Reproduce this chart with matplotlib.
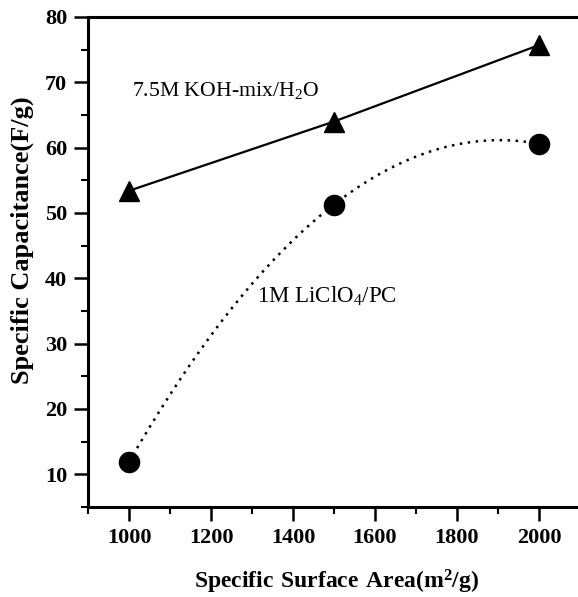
import numpy as np
import matplotlib
matplotlib.use("Agg")
import matplotlib.pyplot as plt
from matplotlib.ticker import MultipleLocator

# Data
area = [1000, 1500, 2000]
koh_cap = [53.4, 64.0, 75.7]
li_cap = [11.9, 51.3, 60.6]
koh_label = "7.5M KOH-mix/H$_2$O"
li_label = "1M LiClO$_4$/PC"
xlabel = r"$\mathbf{Specific\ Surface\ Area(m^2/g)}$"
ylabel = "Specific Capacitance(F/g)"
xticks = [1000, 1200, 1400, 1600, 1800, 2000]
yticks = [10, 20, 30, 40, 50, 60, 70, 80]

plt.rcParams['font.family'] = ['Liberation Serif', 'DejaVu Serif']
plt.rcParams['mathtext.fontset'] = 'custom'
plt.rcParams['mathtext.rm'] = 'Liberation Serif'
plt.rcParams['mathtext.bf'] = 'Liberation Serif:bold'

fig = plt.figure(figsize=(5.78, 5.97), dpi=100)
ax = fig.add_axes([88/578, 90/597, (580-88)/578, (507-17)/597])

# smooth fitted curve for LiClO4 (quadratic fit of the data, as in the original)
coef = np.polyfit(area, li_cap, 2)
xs = np.linspace(area[0], area[-1], 200)
ax.plot(xs, np.polyval(coef, xs), color='black', lw=1.8, linestyle=(0, (1, 2.2)))
ax.plot(area, li_cap, 'o', color='black', ms=14.5, linestyle='none')

ax.plot(area, koh_cap, '-', color='black', lw=1.6)
ax.plot(area, koh_cap, '^', color='black', ms=15, linestyle='none')

ax.annotate(koh_label, xy=(1007, 68.7), fontsize=15.7, va='center', ha='left')
ax.annotate(li_label, xy=(1312, 37.3), fontsize=16.5, va='center', ha='left')

ax.set_xlim(900, 2100)
ax.set_ylim(5, 80)
ax.set_xticks(xticks)
ax.set_yticks(yticks)
ax.xaxis.set_minor_locator(MultipleLocator(100))
ax.yaxis.set_minor_locator(MultipleLocator(5))
ax.tick_params(which='major', direction='out', length=10, width=1.8, labelsize=16, pad=5)
ax.tick_params(which='minor', direction='out', length=5, width=1.5)
ax.tick_params(top=False, right=False)
for lbl in ax.get_xticklabels() + ax.get_yticklabels():
    lbl.set_fontweight('bold')
for s in ax.spines.values():
    s.set_linewidth(2.2)

fig.text(337/578, 1 - 582/597, xlabel, fontsize=17, ha='center', va='center')
fig.text(22/578, 1 - 240/597, ylabel, fontsize=19, fontweight='bold',
         rotation=90, ha='center', va='center')

fig.savefig("out.png", dpi=100)
